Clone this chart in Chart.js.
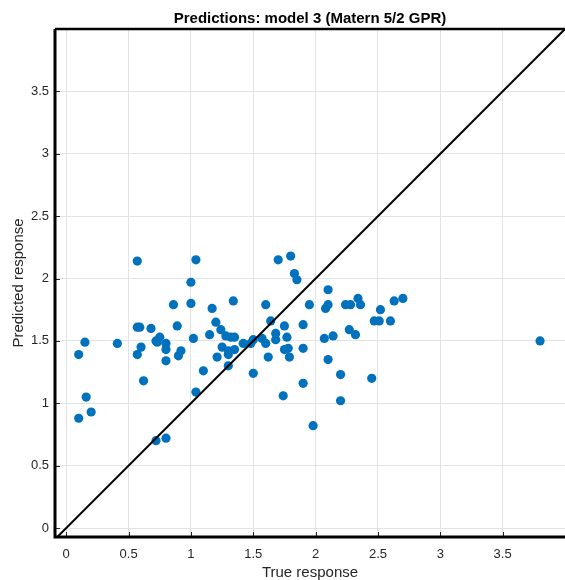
<!DOCTYPE html>
<html>
<head>
<meta charset="utf-8">
<script src="https://cdn.jsdelivr.net/npm/chart.js@4.4.1/dist/chart.umd.min.js"></script>
<style>
  html, body { margin: 0; padding: 0; background: #fff; overflow: hidden; }
  canvas { display: block; }
</style>
</head>
<body>
<canvas id="c" width="565" height="580"></canvas>
<script>
// Observed (true) responses and the model's predictions, one entry per observation
const trueResponse = [
  0.10, 0.10, 0.15, 0.16, 0.20, 0.41, 0.57, 0.57, 0.59, 0.57,
  0.60, 0.62, 0.68, 0.72, 0.73, 0.75, 0.80, 0.80, 0.80, 0.72,
  0.80, 0.86, 0.89, 0.90, 0.92,
  1.04, 1.00, 1.00, 1.02, 1.04, 1.10, 1.17, 1.15, 1.20, 1.21,
  1.24, 1.25, 1.28, 1.30, 1.30, 1.30, 1.32, 1.34, 1.35, 1.35,
  1.42, 1.48, 1.50, 1.50, 1.57, 1.60, 1.60, 1.62, 1.64, 1.68,
  1.68, 1.70, 1.74, 1.75, 1.75, 1.77, 1.78, 1.79, 1.80, 1.83,
  1.85,
  1.90, 1.90, 1.90, 1.95, 1.98, 2.07, 2.08, 2.10, 2.10, 2.10,
  2.14, 2.20, 2.20, 2.24, 2.27, 2.28, 2.32, 2.34, 2.36, 2.45,
  2.47, 2.51, 2.52, 2.60, 2.63, 2.70, 3.80
];
const predictedResponse = [
  0.88, 1.39, 1.49, 1.05, 0.93, 1.48, 2.14, 1.61, 1.61, 1.39,
  1.45, 1.18, 1.60, 1.50, 1.49, 1.53, 1.48, 1.43, 1.34, 0.70,
  0.72, 1.79, 1.62, 1.38, 1.42,
  2.15, 1.97, 1.80, 1.52, 1.09, 1.26, 1.76, 1.55, 1.65, 1.37,
  1.59, 1.45, 1.54, 1.42, 1.39, 1.30, 1.53, 1.82, 1.53, 1.43,
  1.48, 1.48, 1.51, 1.24, 1.52, 1.48, 1.79, 1.37, 1.66, 1.56,
  1.51, 2.15, 1.06, 1.62, 1.43, 1.53, 1.44, 1.37, 2.18, 2.04,
  1.99,
  1.63, 1.44, 1.16, 1.79, 0.82, 1.52, 1.76, 1.91, 1.79, 1.35,
  1.54, 1.23, 1.02, 1.79, 1.59, 1.79, 1.55, 1.84, 1.79, 1.20,
  1.66, 1.66, 1.75, 1.66, 1.82, 1.84, 1.50
];
// Ticks shared by both axes
const tickValues = [0, 0.5, 1, 1.5, 2, 2.5, 3, 3.5];
const xLimits = [-0.09, 4];
const yLimits = [-0.072, 4];

const FONT = '"Liberation Sans", Arial, Helvetica, sans-serif';
const TEXT = '#262626';

const points = trueResponse.map((t, i) => ({ x: t, y: predictedResponse[i] }));
const identity = [
  { x: xLimits[0], y: xLimits[0] },
  { x: xLimits[1], y: xLimits[1] }
];

// Axes box, inward tick marks, title and axis labels
const decorations = {
  id: 'decorations',
  afterDraw(chart) {
    const { ctx, chartArea: a, scales } = chart;
    ctx.save();
    // tick marks pointing into the plot
    ctx.strokeStyle = TEXT;
    ctx.lineWidth = 1;
    ctx.beginPath();
    tickValues.forEach(v => {
      const px = Math.round(scales.x.getPixelForValue(v)) + 0.5;
      ctx.moveTo(px, a.bottom);
      ctx.lineTo(px, a.bottom - 5);
      const py = Math.round(scales.y.getPixelForValue(v)) + 0.5;
      ctx.moveTo(a.left, py);
      ctx.lineTo(a.left + 5, py);
    });
    ctx.stroke();
    // box lines
    ctx.strokeStyle = '#000';
    ctx.lineWidth = 3;
    ctx.beginPath();
    ctx.moveTo(a.left, a.top);
    ctx.lineTo(a.left, a.bottom);
    ctx.lineTo(a.right, a.bottom);
    ctx.stroke();
    ctx.lineWidth = 2.5;
    ctx.beginPath();
    ctx.moveTo(a.left, a.top);
    ctx.lineTo(a.right, a.top);
    ctx.stroke();
    // title
    const cx = (a.left + a.right) / 2;
    ctx.fillStyle = '#000';
    ctx.font = 'bold 15px ' + FONT;
    ctx.textAlign = 'center';
    ctx.textBaseline = 'alphabetic';
    ctx.fillText('Predictions: model 3 (Matern 5/2 GPR)', cx, 23);
    // axis labels
    ctx.fillStyle = TEXT;
    ctx.font = '15px ' + FONT;
    ctx.fillText('True response', cx, 577);
    ctx.translate(23, (a.top + a.bottom) / 2);
    ctx.rotate(-Math.PI / 2);
    ctx.fillText('Predicted response', 0, 0);
    ctx.restore();
  }
};

const axisCommon = {
  type: 'linear',
  afterBuildTicks: s => { s.ticks = tickValues.map(v => ({ value: v })); },
  grid: { color: '#e3e3e3', lineWidth: 1, drawTicks: false },
  border: { display: false },
  ticks: {
    color: TEXT,
    font: { family: FONT, size: 13 },
    callback: v => String(v)
  }
};

new Chart(document.getElementById('c'), {
  data: {
    datasets: [
      {
        type: 'scatter',
        data: points,
        backgroundColor: '#0072BD',
        borderWidth: 0,
        pointRadius: 4.6,
        order: 2
      },
      {
        type: 'line',
        data: identity,
        borderColor: '#000',
        borderWidth: 2,
        pointRadius: 0,
        fill: false,
        order: 1
      }
    ]
  },
  options: {
    responsive: false,
    animation: false,
    layout: { autoPadding: false, padding: { top: 29, left: 0, right: 0, bottom: 0 } },
    plugins: { legend: { display: false }, tooltip: { enabled: false }, title: { display: false } },
    scales: {
      x: Object.assign({}, axisCommon, {
        min: xLimits[0], max: xLimits[1],
        afterFit: s => { s.height = 43; },
        ticks: Object.assign({}, axisCommon.ticks, { padding: 10, maxRotation: 0 })
      }),
      y: Object.assign({}, axisCommon, {
        min: yLimits[0], max: yLimits[1],
        afterFit: s => { s.width = 55; },
        ticks: Object.assign({}, axisCommon.ticks, { padding: 6 })
      })
    }
  },
  plugins: [decorations]
});
</script>
</body>
</html>
